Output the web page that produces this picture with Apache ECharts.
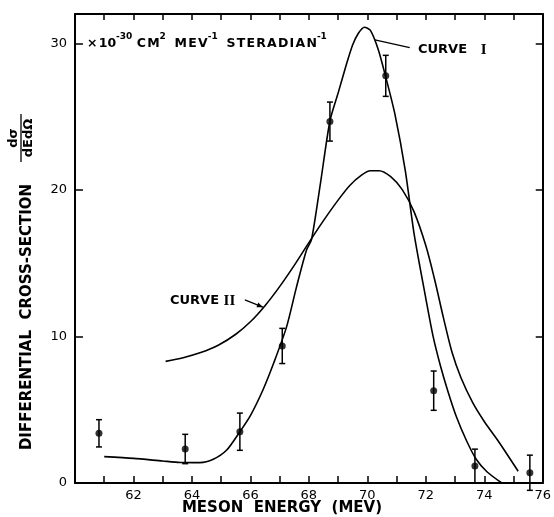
<!DOCTYPE html>
<html><head><meta charset="utf-8">
<script src="https://cdn.jsdelivr.net/npm/echarts@6/dist/echarts.min.js"></script>
<style>html,body{margin:0;padding:0;background:#fff}#c{width:554px;height:517px}</style>
</head><body><div id="c"></div>
<script>
// ---- data ----
const xTickLabels = [62, 64, 66, 68, 70, 72, 74, 76];
const yTickLabels = [0, 10, 20, 30];

const pointEnergy = [60.82, 63.77, 65.64, 67.09, 68.72, 70.63, 72.27, 73.68, 75.56];
const pointValue  = [3.39, 2.32, 3.50, 9.35, 24.66, 27.78, 6.30, 1.16, 0.70];
const pointError  = [0.93, 1.00, 1.27, 1.20, 1.33, 1.40, 1.34, 1.15, 1.20];

const curve1Energy = [61.0, 62.0, 63.0, 63.6, 64.27, 64.73, 65.19, 65.64, 66.0, 66.44, 66.8, 67.24, 67.58, 67.92, 68.09, 68.4, 68.72, 69.0, 69.29, 69.5, 69.7, 69.9, 70.1, 70.37, 70.63, 70.94, 71.3, 71.6, 72.0, 72.25, 72.5, 72.75, 73.05, 73.39, 73.73, 74.1, 74.6];
const curve1Value  = [1.80, 1.68, 1.50, 1.40, 1.39, 1.62, 2.25, 3.50, 4.60, 6.40, 8.20, 10.67, 13.40, 15.90, 16.60, 20.50, 24.70, 26.60, 28.60, 29.90, 30.70, 31.10, 30.90, 29.60, 27.70, 25.20, 21.30, 17.00, 12.60, 10.00, 8.00, 6.30, 4.50, 2.90, 1.60, 0.75, 0.00];

const curve2Energy = [63.1, 63.7, 64.3, 64.9, 65.5, 66.0, 66.5, 67.0, 67.5, 68.0, 68.5, 69.0, 69.4, 69.8, 70.1, 70.4, 70.8, 71.2, 71.6, 72.0, 72.3, 72.6, 72.9, 73.2, 73.6, 74.0, 74.5, 75.16];
const curve2Value  = [8.30, 8.55, 8.90, 9.40, 10.15, 11.00, 12.10, 13.40, 14.85, 16.40, 17.90, 19.30, 20.30, 21.00, 21.30, 21.30, 20.90, 20.00, 18.50, 16.20, 13.90, 11.30, 8.90, 7.20, 5.50, 4.20, 2.80, 0.80];

// ---- build series data ----
const zip = (a, b) => a.map((v, i) => [v, b[i]]);
const curve1 = zip(curve1Energy, curve1Value);
const curve2 = zip(curve2Energy, curve2Value);
const points = zip(pointEnergy, pointValue);
const bars = pointEnergy.map((e, i) => [e, pointValue[i] - pointError[i], pointValue[i] + pointError[i]]);

const FONT = 'DejaVu Sans';
const axisLineStyle = { color: '#000', width: 2 };
const tickStyle = { color: '#000', width: 1.5 };
const spaced = s => s.split('').join('\u200A');

const chart = echarts.init(document.getElementById('c'), null, { renderer: 'canvas' });

const option = {
  backgroundColor: '#fff',
  animation: false,
  grid: { left: 75, right: 11, top: 14, bottom: 34, containLabel: false },
  xAxis: [
    { type: 'value', min: 60, max: 76, interval: 1, position: 'bottom',
      axisLine: { show: true, onZero: false, lineStyle: axisLineStyle },
      axisTick: { show: true, inside: true, length: 7, lineStyle: tickStyle },
      axisLabel: { show: true, margin: 6, color: '#000', fontSize: 13, fontFamily: FONT,
        formatter: v => xTickLabels.includes(v) ? String(v) : '' },
      splitLine: { show: false } },
    { type: 'value', min: 60, max: 76, interval: 1, position: 'top',
      axisLine: { show: true, onZero: false, lineStyle: axisLineStyle },
      axisTick: { show: true, inside: true, length: 6, lineStyle: tickStyle },
      axisLabel: { show: false }, splitLine: { show: false } }
  ],
  yAxis: [
    { type: 'value', min: 0, max: 32, interval: 10, position: 'left',
      axisLine: { show: true, onZero: false, lineStyle: axisLineStyle },
      axisTick: { show: true, inside: true, length: 8, lineStyle: tickStyle },
      axisLabel: { show: true, margin: 8, color: '#000', fontSize: 13, fontFamily: FONT,
        formatter: v => yTickLabels.includes(v) ? String(v) : '' },
      splitLine: { show: false } },
    { type: 'value', min: 0, max: 32, interval: 10, position: 'right',
      axisLine: { show: true, onZero: false, lineStyle: axisLineStyle },
      axisTick: { show: true, inside: true, length: 7, lineStyle: tickStyle },
      axisLabel: { show: false }, splitLine: { show: false } }
  ],
  series: [
    { name: 'Curve I', type: 'line', data: curve1, smooth: 0.25, symbol: 'none',
      lineStyle: { color: '#000', width: 1.6 }, z: 3 },
    { name: 'Curve II', type: 'line', data: curve2, smooth: 0.3, symbol: 'none',
      lineStyle: { color: '#000', width: 1.6 }, z: 3 },
    { name: 'errors', type: 'custom', data: bars, clip: false, encode: { x: 0, y: [1, 2] }, z: 4,
      renderItem: (params, api) => {
        const x = api.value(0);
        const pHi = api.coord([x, api.value(2)]);
        const pLo = api.coord([x, api.value(1)]);
        const cw = 3;
        const st = { stroke: '#000', lineWidth: 1.5 };
        return { type: 'group', children: [
          { type: 'line', shape: { x1: pHi[0], y1: pHi[1], x2: pLo[0], y2: pLo[1] }, style: st },
          { type: 'line', shape: { x1: pHi[0] - cw, y1: pHi[1], x2: pHi[0] + cw, y2: pHi[1] }, style: st },
          { type: 'line', shape: { x1: pLo[0] - cw, y1: pLo[1], x2: pLo[0] + cw, y2: pLo[1] }, style: st }
        ]};
      } },
    { name: 'data', type: 'scatter', data: points, symbol: 'circle', symbolSize: 7,
      itemStyle: { color: '#000' }, z: 5 }
  ]
};
chart.setOption(option);

// ---- annotations ----
const px = (e, v) => chart.convertToPixel({ gridIndex: 0 }, [e, v]);
const c1a = px(70.26, 30.24), c1b = px(71.45, 29.7);
const c2a = px(65.81, 12.49), c2b = px(66.43, 12.0);
const ang = Math.atan2(c2b[1] - c2a[1], c2b[0] - c2a[0]);
const ah = 6, aw = 2.5;
const arrowPts = [
  [c2b[0], c2b[1]],
  [c2b[0] - ah * Math.cos(ang) + aw * Math.sin(ang), c2b[1] - ah * Math.sin(ang) - aw * Math.cos(ang)],
  [c2b[0] - ah * Math.cos(ang) - aw * Math.sin(ang), c2b[1] - ah * Math.sin(ang) + aw * Math.cos(ang)]
];

const bold = (size) => ({ fontSize: size, fontWeight: 'bold', fontFamily: FONT });
const mid = { align: 'center', verticalAlign: 'middle', textAlign: 'center', textVerticalAlign: 'middle' };

chart.setOption({
  graphic: [
    { type: 'line', shape: { x1: c1a[0], y1: c1a[1], x2: c1b[0], y2: c1b[1] }, style: { stroke: '#000', lineWidth: 1.3 } },
    { type: 'line', shape: { x1: c2a[0], y1: c2a[1], x2: c2b[0], y2: c2b[1] }, style: { stroke: '#000', lineWidth: 1.3 } },
    { type: 'polygon', shape: { points: arrowPts }, style: { fill: '#000' } },
    { type: 'text', x: 418, y: 50, style: {
        text: '{c|CURVE}{c|   }{r|I}', align: 'left', verticalAlign: 'middle', textAlign: 'left', textVerticalAlign: 'middle',
        rich: { c: Object.assign({ fill: '#000' }, bold(13)), r: { fill: '#000', fontSize: 15, fontWeight: 'bold', fontFamily: 'Liberation Serif' } } } },
    { type: 'text', x: 170, y: 301, style: {
        text: '{c|CURVE}{c| }{r|II}', align: 'left', verticalAlign: 'middle', textAlign: 'left', textVerticalAlign: 'middle',
        rich: { c: Object.assign({ fill: '#000' }, bold(13)), r: { fill: '#000', fontSize: 15, fontWeight: 'bold', fontFamily: 'Liberation Serif' } } } },
    { type: 'text', x: 87, y: 41, style: {
        text: '{a|×\u200A10}{s|-30}{a| ' + spaced('CM') + '}{s|2}{a|  ' + spaced('MEV') + '}{s|-1}{a|  ' + spaced('STERADIAN') + '}{s|-1}',
        align: 'left', verticalAlign: 'middle', textAlign: 'left', textVerticalAlign: 'middle',
        rich: {
          a: { fill: '#000', fontSize: 12.5, fontWeight: 'bold', fontFamily: FONT, lineHeight: 18, verticalAlign: 'bottom' },
          s: { fill: '#000', fontSize: 9, fontWeight: 'bold', fontFamily: FONT, lineHeight: 10, verticalAlign: 'top' }
        } } },
    { type: 'text', x: 282, y: 508, style: Object.assign({ text: 'MESON  ENERGY  (MEV)', fill: '#000' }, mid, bold(15)) },
    { type: 'text', x: 27, y: 317, rotation: Math.PI / 2, style: Object.assign({ text: 'DIFFERENTIAL  CROSS-SECTION', fill: '#000' }, mid, bold(15)) },
    { type: 'text', x: 14, y: 138, rotation: Math.PI / 2, style: Object.assign({ text: 'dσ', fill: '#000' }, mid, bold(13)) },
    { type: 'line', shape: { x1: 21, y1: 114, x2: 21, y2: 162 }, style: { stroke: '#000', lineWidth: 1.3 } },
    { type: 'text', x: 29, y: 138, rotation: Math.PI / 2, style: Object.assign({ text: 'dEdΩ', fill: '#000' }, mid, bold(13)) }
  ]
});
</script>
</body></html>
